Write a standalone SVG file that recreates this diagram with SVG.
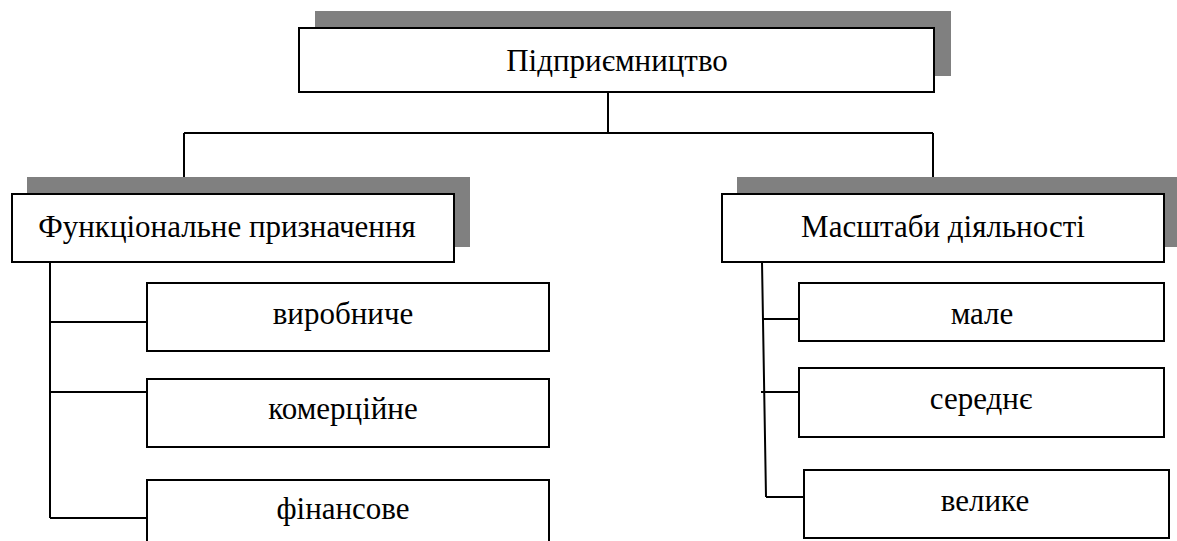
<svg xmlns="http://www.w3.org/2000/svg" width="1177" height="541" viewBox="0 0 1177 541">
<style>
.box{fill:#fff;stroke:#000;stroke-width:2}
.sh{fill:#808080}
.c{stroke:#000;stroke-width:2;fill:none}
</style>
<rect width="1177" height="541" fill="#fff"/>
<g id="connectors">
<path class="c" d="M608 92V133M184 133H933M184 133V195M933 133V195"/>
<path class="c" d="M50 262V518M50 322H147M50 392H147M50 518H147"/>
<path class="c" d="M762 262L766 497M763 319H799M761 392H799M766 497H804"/>
</g>
<g font-family="Liberation Serif, DejaVu Serif, serif" font-size="31" text-anchor="middle" fill="#000">
<g id="n-root">
<rect class="sh" x="315" y="11" width="636" height="65"/>
<rect class="box" x="299" y="28" width="635" height="64"/>
<text x="617" y="71">Підприємництво</text>
</g>
<g id="n-func">
<rect class="sh" x="27" y="177" width="443" height="70"/>
<rect class="box" x="12" y="194" width="442" height="68"/>
<text x="227" y="237">Функціональне призначення</text>
</g>
<g id="n-scale">
<rect class="sh" x="737" y="177" width="440" height="70"/>
<rect class="box" x="722" y="194" width="442" height="68"/>
<text x="943" y="237">Масштаби діяльності</text>
</g>
<g id="n-vyr">
<rect class="box" x="147" y="283" width="402" height="68"/>
<text x="343" y="324">виробниче</text>
</g>
<g id="n-kom">
<rect class="box" x="147" y="379" width="402" height="68"/>
<text x="343" y="419">комерційне</text>
</g>
<g id="n-fin">
<rect class="box" x="147" y="480" width="402" height="70"/>
<text x="343" y="519">фінансове</text>
</g>
<g id="n-male">
<rect class="box" x="799" y="283" width="365" height="58"/>
<text x="982" y="324">мале</text>
</g>
<g id="n-ser">
<rect class="box" x="799" y="368" width="365" height="69"/>
<text x="981" y="409">середнє</text>
</g>
<g id="n-vel">
<rect class="box" x="804" y="470" width="365" height="68"/>
<text x="985" y="511">велике</text>
</g>
</g>
</svg>
